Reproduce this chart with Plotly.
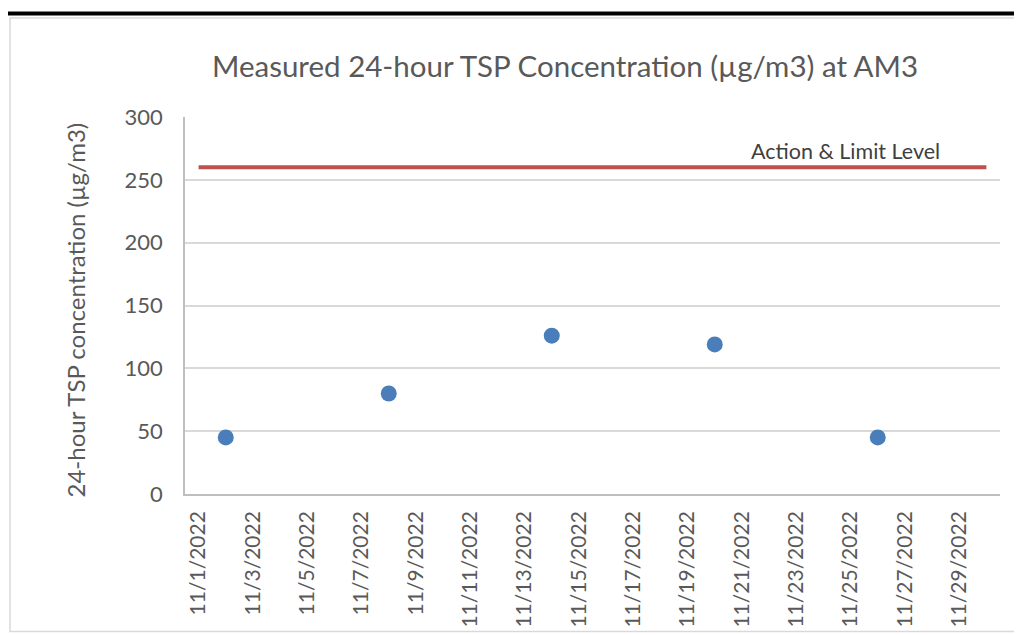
import plotly.graph_objects as go

# ---- data ----
sample_dates = ["2022-11-02", "2022-11-08", "2022-11-14", "2022-11-20", "2022-11-26"]
tsp_values = [45, 80, 126, 119, 45]
limit_dates = ["2022-11-01", "2022-11-30"]
limit_values = [260, 260]
tick_dates = ["2022-11-%02d" % d for d in range(1, 30, 2)]
tick_labels = ["11/%d/2022" % d for d in range(1, 30, 2)]
y_ticks = [0, 50, 100, 150, 200, 250, 300]

title_text = "Measured 24-hour TSP Concentration (µg/m3) at AM3"
y_title = "24-hour TSP concentration (µg/m3)"
limit_label = "Action & Limit Level"

FONT = "Lato"
GREY = "#595959"

# page body has an 8px margin: size the figure so the plot area lands where wanted
OFF = 8
W, H = 1022 - OFF, 635 - OFF

fig = go.Figure()
fig.add_trace(go.Scatter(
    x=limit_dates, y=limit_values, mode="lines",
    line=dict(color="#c0504d", width=4), hoverinfo="skip", showlegend=False,
))
fig.add_trace(go.Scatter(
    x=sample_dates, y=tsp_values, mode="markers",
    marker=dict(size=16, color="#4a7ebb"), showlegend=False,
))

fig.update_layout(
    width=W, height=H,
    margin=dict(l=185 - OFF, r=22, t=117 - OFF, b=141, autoexpand=False),
    paper_bgcolor="white", plot_bgcolor="white",
    font=dict(family=FONT, color=GREY),
    title=dict(text=title_text, x=(565 - OFF) / W, xanchor="center",
               y=1 - (67 - OFF) / H, yanchor="middle",
               font=dict(family=FONT, size=29.5, color=GREY)),
    xaxis=dict(
        type="date", automargin=False,
        range=["2022-10-31 12:00", "2022-11-30 12:00"],
        tickmode="array", tickvals=tick_dates, ticktext=tick_labels,
        tickangle=-90, tickfont=dict(size=21, color=GREY),
        showgrid=False, showline=True, linecolor="#bfbfbf", linewidth=1.5,
        ticks="", ticklabelstandoff=7, zeroline=False,
    ),
    yaxis=dict(
        range=[0, 300], tickmode="array", tickvals=y_ticks, automargin=False,
        tickfont=dict(size=22, color=GREY),
        showgrid=True, gridcolor="#d9d9d9", gridwidth=1.5,
        showline=True, linecolor="#bfbfbf", linewidth=1.5,
        ticks="", ticklabelstandoff=16, zeroline=False,
    ),
    annotations=[
        dict(text=y_title, xref="paper", yref="paper",
             x=(75 - 185) / 815, y=(493.5 - 310) / 377,
             xanchor="center", yanchor="middle", textangle=-90,
             showarrow=False, font=dict(family=FONT, size=24, color=GREY)),
        dict(text=limit_label, xref="paper", yref="paper",
             x=(845 - 185) / 815, y=(493.5 - 150) / 377,
             xanchor="center", yanchor="middle",
             showarrow=False, font=dict(family=FONT, size=21.5, color="#404040")),
    ],
    shapes=[
        # chart frame
        dict(type="rect", xref="paper", yref="paper",
             x0=(10 - 185) / 815, x1=(1040 - 185) / 815,
             y0=(493.5 - 631) / 377, y1=(493.5 - 17.5) / 377,
             line=dict(color="#d9d9d9", width=1.5), layer="below"),
        # thick black top rule
        dict(type="line", xref="paper", yref="paper",
             x0=(0 - 185) / 815, x1=(1040 - 185) / 815,
             y0=(493.5 - 13) / 377, y1=(493.5 - 13) / 377,
             line=dict(color="black", width=4)),
    ],
)

fig.write_html("out.html")
